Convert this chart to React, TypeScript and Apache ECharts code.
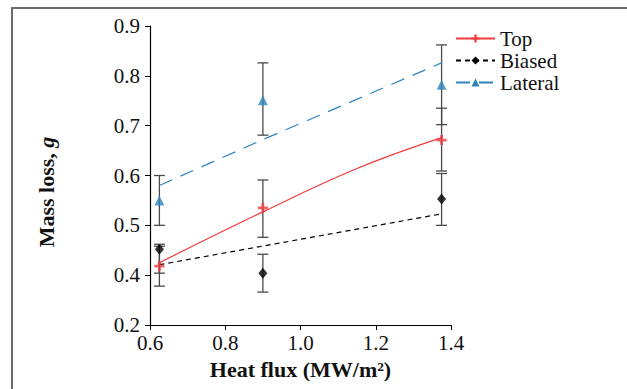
import React, { useEffect, useRef } from "react";
import * as echarts from "echarts";

// Measurement x positions (heat flux, MW/m²)
const heatFlux = [0.625, 0.9, 1.375];

// Mean mass loss (g) and error-bar ends, per configuration
const topMean = [0.418, 0.535, 0.671];
const topLow = [0.378, 0.476, 0.609];
const topHigh = [0.458, 0.591, 0.735];

const biasedMean = [0.452, 0.404, 0.553];
const biasedLow = [0.404, 0.366, 0.5];
const biasedHigh = [0.462, 0.442, 0.604];

const lateralMean = [0.55, 0.751, 0.782];
const lateralLow = [0.5, 0.681, 0.702];
const lateralHigh = [0.6, 0.826, 0.862];

// Trend curves
const topFitX = [0.625, 0.9, 1.15, 1.375];
const topFitY = [0.425, 0.527, 0.614, 0.676];
const biasedFitX = [0.625, 1.375];
const biasedFitY = [0.421, 0.523];
const lateralFitX = [0.625, 0.9, 1.375];
const lateralFitY = [0.58, 0.672, 0.826];

const RED = "#f03a3c";
const BLACK = "#000000";
const BLUE = "#2e86c1";
const FONT = "Liberation Serif";
const PLUS = "path://M3.6,0H6.4V3.6H10V6.4H6.4V10H3.6V6.4H0V3.6H3.6Z";

const zip = (a: number[], b: number[]) => a.map((v, i) => [v, b[i]]);
const errData = (low: number[], high: number[]) =>
  heatFlux.map((x, i) => [x, low[i], high[i]]);

const errRender = (params: any, api: any) => {
  const x = api.value(0);
  const lo = api.coord([x, api.value(1)]);
  const hi = api.coord([x, api.value(2)]);
  const w = 5.5;
  const style = { stroke: "#4a4a4a", lineWidth: 1.3 };
  return {
    type: "group",
    children: [
      { type: "line", shape: { x1: lo[0], y1: lo[1], x2: hi[0], y2: hi[1] }, style },
      { type: "line", shape: { x1: lo[0] - w, y1: lo[1], x2: lo[0] + w, y2: lo[1] }, style },
      { type: "line", shape: { x1: hi[0] - w, y1: hi[1], x2: hi[0] + w, y2: hi[1] }, style },
    ],
  };
};

const tickRich = { t: { fontFamily: FONT, fontSize: 21, color: "#111" } };

export default function App() {
  const ref = useRef<HTMLDivElement>(null);
  useEffect(() => {
    if (!ref.current) return;
    const chart = echarts.init(ref.current, undefined, { renderer: "svg" });
    chart.setOption({
      animation: false,
      backgroundColor: "#ffffff",
      textStyle: { fontFamily: FONT },
      grid: { left: 150, right: 176, top: 26, bottom: 64 },
      legend: {
        data: ["Top", "Biased", "Lateral"],
        orient: "vertical",
        left: 450,
        top: 23,
        itemWidth: 39,
        itemHeight: 10,
        itemGap: 1,
        textStyle: { fontFamily: FONT, fontSize: 21, color: "#111" },
      },
      xAxis: {
        type: "value",
        min: 0.6,
        max: 1.4,
        interval: 0.2,
        name: "Heat flux (MW/m²)",
        nameLocation: "middle",
        nameGap: 33,
        nameTextStyle: { fontFamily: FONT, fontSize: 22, fontWeight: "bold", color: "#111" },
        axisLine: { lineStyle: { color: "#000", width: 1.2 } },
        axisTick: { length: 5, lineStyle: { color: "#000" } },
        axisLabel: {
          margin: 7,
          fontFamily: FONT,
          fontSize: 21,
          color: "#111",
          rich: tickRich,
          formatter: (v: number) => "{t|" + v.toFixed(1) + "}",
        },
        splitLine: { show: false },
      },
      yAxis: {
        type: "value",
        min: 0.3,
        max: 0.9,
        interval: 0.1,
        axisLine: { show: true, lineStyle: { color: "#000", width: 1.2 } },
        axisTick: { show: true, length: 5, lineStyle: { color: "#000" } },
        axisLabel: {
          margin: 10,
          fontFamily: FONT,
          fontSize: 21,
          color: "#111",
          rich: tickRich,
          formatter: (v: number) => "{t|" + (v < 0.35 ? "0.2" : v.toFixed(1)) + "}",
        },
        splitLine: { show: false },
      },
      graphic: [
        {
          type: "polyline",
          shape: { points: [[12, 389], [12, 8], [627, 8]] },
          style: { stroke: "#6a6a6a", lineWidth: 2, fill: null },
          silent: true,
        },
        {
          type: "text",
          x: 46,
          y: 192,
          rotation: Math.PI / 2,
          style: {
            text: "{a|Mass loss, }{b|g}",
            align: "center",
            verticalAlign: "middle",
            rich: {
              a: { fontFamily: FONT, fontSize: 22, fontWeight: "bold", fill: "#111" },
              b: { fontFamily: FONT, fontSize: 22, fontWeight: "bold", fontStyle: "italic", fill: "#111" },
            },
          },
        },
      ],
      series: [
        {
          name: "Top",
          type: "line",
          data: zip(topFitX, topFitY),
          smooth: 0.4,
          symbol: PLUS,
          symbolSize: 10,
          showSymbol: false,
          lineStyle: { color: RED, width: 1.2 },
          itemStyle: { color: RED },
          z: 3,
        },
        {
          name: "Biased",
          type: "line",
          data: zip(biasedFitX, biasedFitY),
          symbol: "diamond",
          symbolSize: 10,
          showSymbol: false,
          lineStyle: { color: BLACK, width: 1.2, type: [5, 4] },
          itemStyle: { color: BLACK },
          z: 3,
        },
        {
          name: "Lateral",
          type: "line",
          data: zip(lateralFitX, lateralFitY),
          symbol: "triangle",
          symbolSize: 10,
          showSymbol: false,
          lineStyle: { color: BLUE, width: 1.2, type: [14, 9] },
          itemStyle: { color: BLUE },
          z: 3,
        },
        { name: "Top err", type: "custom", renderItem: errRender, data: errData(topLow, topHigh), encode: { x: 0, y: [1, 2] }, z: 2 },
        { name: "Biased err", type: "custom", renderItem: errRender, data: errData(biasedLow, biasedHigh), encode: { x: 0, y: [1, 2] }, z: 2 },
        { name: "Lateral err", type: "custom", renderItem: errRender, data: errData(lateralLow, lateralHigh), encode: { x: 0, y: [1, 2] }, z: 2 },
        {
          name: "Top pts",
          type: "scatter",
          data: zip(heatFlux, topMean),
          symbol: PLUS,
          symbolSize: 10,
          itemStyle: { color: RED },
          z: 4,
        },
        {
          name: "Biased pts",
          type: "scatter",
          data: zip(heatFlux, biasedMean),
          symbol: "diamond",
          symbolSize: [9, 11],
          itemStyle: { color: BLACK },
          z: 4,
        },
        {
          name: "Lateral pts",
          type: "scatter",
          data: zip(heatFlux, lateralMean),
          symbol: "triangle",
          symbolSize: 10,
          itemStyle: { color: BLUE },
          z: 4,
        },
      ],
    });
    return () => chart.dispose();
  }, []);
  return (
    <div
      ref={ref}
      style={{ position: "fixed", left: 0, top: 0, width: 627, height: 389 }}
    />
  );
}
